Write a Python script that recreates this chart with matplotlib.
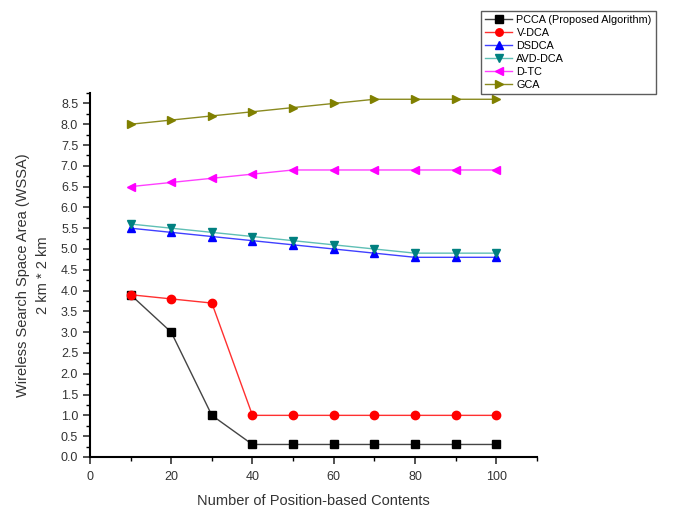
import matplotlib
matplotlib.use("Agg")
import matplotlib.pyplot as plt
from matplotlib.ticker import MultipleLocator

plt.rcParams['font.family'] = ['Liberation Sans', 'DejaVu Sans']

x = [10, 20, 30, 40, 50, 60, 70, 80, 90, 100]
pcca = [3.9, 3.0, 1.0, 0.3, 0.3, 0.3, 0.3, 0.3, 0.3, 0.3]
vdca = [3.9, 3.8, 3.7, 1.0, 1.0, 1.0, 1.0, 1.0, 1.0, 1.0]
dsdca = [5.5, 5.4, 5.3, 5.2, 5.1, 5.0, 4.9, 4.8, 4.8, 4.8]
avddca = [5.6, 5.5, 5.4, 5.3, 5.2, 5.1, 5.0, 4.9, 4.9, 4.9]
dtc = [6.5, 6.6, 6.7, 6.8, 6.9, 6.9, 6.9, 6.9, 6.9, 6.9]
gca = [8.0, 8.1, 8.2, 8.3, 8.4, 8.5, 8.6, 8.6, 8.6, 8.6]

series = [
    ("PCCA (Proposed Algorithm)", pcca, 's', '#444444', 'black'),
    ("V-DCA", vdca, 'o', '#ff3030', 'red'),
    ("DSDCA", dsdca, '^', '#4040ff', 'blue'),
    ("AVD-DCA", avddca, 'v', '#5fbfb5', '#008080'),
    ("D-TC", dtc, '<', '#ff40ff', 'magenta'),
    ("GCA", gca, '>', '#8a8a20', '#808000'),
]

fig = plt.figure(figsize=(6.74, 5.14), dpi=100)
ax = fig.add_axes([0.1335, 0.111, 0.663, 0.708])

handles = []
for name, vals, m, lc, mc in series:
    h, = ax.plot(x, vals, color=lc, marker=m, markerfacecolor=mc, markeredgecolor=mc,
                 markersize=6, linewidth=1, label=name)
    handles.append(h)

ax.set_xlim(0, 110)
ax.set_ylim(0, 8.75)
ax.xaxis.set_major_locator(MultipleLocator(20))
ax.xaxis.set_minor_locator(MultipleLocator(10))
ax.yaxis.set_major_locator(MultipleLocator(0.5))
ax.yaxis.set_minor_locator(MultipleLocator(0.25))
ax.yaxis.set_major_formatter(matplotlib.ticker.FormatStrFormatter('%.1f'))

for s in ['top', 'right']:
    ax.spines[s].set_visible(False)
for s in ['left', 'bottom']:
    ax.spines[s].set_linewidth(1.5)
ax.tick_params(axis='both', which='major', direction='out', length=5, width=1.2, labelsize=9, colors='#333333')
ax.tick_params(axis='both', which='minor', direction='out', length=3, width=1.0)
ax.tick_params(axis='x', which='major', pad=5)

ax.set_xlabel("Number of Position-based Contents", fontsize=10.5, color='#333333', labelpad=8)
ax.set_ylabel("Wireless Search Space Area (WSSA)\n2 km * 2 km", fontsize=10.5, color='#333333',
              labelpad=8, linespacing=1.5)

leg = fig.legend(handles=handles, loc='upper left', bbox_to_anchor=(0.706, 0.989),
                 fontsize=7.8, frameon=True, fancybox=False, edgecolor='#333333',
                 handlelength=2.5, labelspacing=0.28, borderpad=0.35, handletextpad=0.4,
                 markerscale=0.9)
leg.get_frame().set_linewidth(1.0)

fig.savefig("out.png", dpi=100)
